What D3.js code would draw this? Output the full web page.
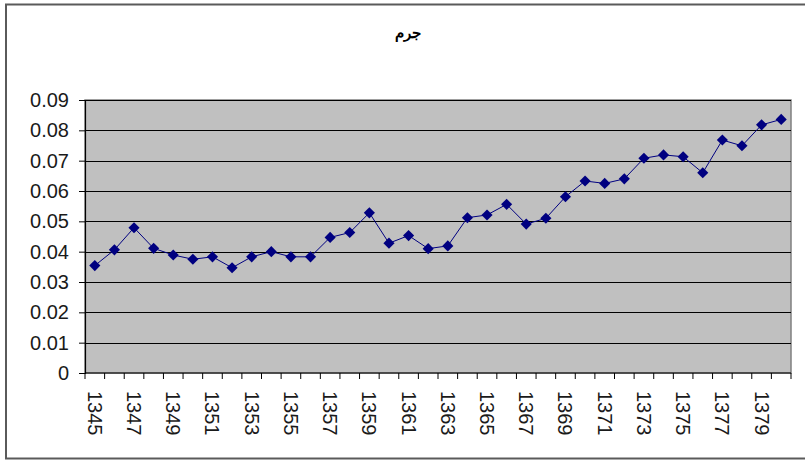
<!DOCTYPE html>
<html>
<head>
<meta charset="utf-8">
<script src="https://cdn.jsdelivr.net/npm/d3@7/dist/d3.min.js"></script>
<style>
  html, body { margin: 0; padding: 0; background: #ffffff; }
  svg { display: block; }
  text { font-family: "Liberation Sans", Arial, sans-serif; }
</style>
</head>
<body>
<svg id="chart" width="805" height="462"></svg>
<script>
// Yearly values of the series (solar-hijri years 1345–1380)
const years = d3.range(1345, 1381);
const values = [
  0.0354, 0.0406, 0.0479, 0.0411, 0.0389, 0.0375, 0.0383, 0.0347, 0.0383, 0.0400,
  0.0383, 0.0383, 0.0447, 0.0463, 0.0528, 0.0428, 0.0453, 0.0410, 0.0419, 0.0512,
  0.0521, 0.0556, 0.0491, 0.0510, 0.0581, 0.0633, 0.0625, 0.0640, 0.0708, 0.0719,
  0.0713, 0.0660, 0.0768, 0.0749, 0.0818, 0.0836
];
const yTicks = [0, 0.01, 0.02, 0.03, 0.04, 0.05, 0.06, 0.07, 0.08, 0.09];
const xLabelYears = years.filter((y, i) => i % 2 === 0);
const title = "جرم";

const svg = d3.select("#chart");
const plot = { left: 85, right: 791, top: 100, bottom: 373 };

const x = d3.scaleBand().domain(years).range([plot.left, plot.right]).padding(0);
const y = d3.scaleLinear().domain([0, 0.09]).range([plot.bottom, plot.top]);

// outer chart frame
svg.append("rect")
  .attr("x", 6).attr("y", 4.5)
  .attr("width", 803).attr("height", 454)
  .attr("fill", "#ffffff")
  .attr("stroke", "#5a5a5a").attr("stroke-width", 2);

// title
svg.append("text")
  .attr("x", 408).attr("y", 38)
  .attr("text-anchor", "middle")
  .attr("font-size", 15).attr("font-weight", "bold")
  .attr("direction", "rtl")
  .text(title);

// plot area
svg.append("rect")
  .attr("x", plot.left).attr("y", plot.top)
  .attr("width", plot.right - plot.left).attr("height", plot.bottom - plot.top)
  .attr("fill", "#c0c0c0")
  .attr("stroke", "#808080").attr("stroke-width", 1.5);

// horizontal gridlines
svg.append("g")
  .selectAll("line")
  .data(yTicks.filter(d => d > 0))
  .join("line")
  .attr("x1", plot.left).attr("x2", plot.right)
  .attr("y1", d => Math.round(y(d)) + 0.5).attr("y2", d => Math.round(y(d)) + 0.5)
  .attr("stroke", "#000000").attr("stroke-width", 1);

// y axis
const yAxis = svg.append("g")
  .attr("transform", `translate(${plot.left},0)`)
  .call(d3.axisLeft(y)
    .tickValues(yTicks)
    .tickSize(6)
    .tickPadding(10)
    .tickFormat(d => d === 0 ? "0" : d3.format(".2f")(d)));
yAxis.select(".domain").attr("stroke", "#000000").attr("stroke-width", 1.2);
yAxis.selectAll(".tick line").attr("stroke", "#000000");
yAxis.selectAll(".tick text")
  .attr("font-size", 20)
  .attr("font-family", "Liberation Sans, Arial, sans-serif")
  .attr("fill", "#1a1a1a");

// x axis: baseline, ticks between categories, rotated labels on every other year
const xAxis = svg.append("g").attr("transform", `translate(0,${plot.bottom})`);
xAxis.append("line")
  .attr("x1", plot.left).attr("x2", plot.right)
  .attr("y1", 0).attr("y2", 0)
  .attr("stroke", "#000000").attr("stroke-width", 1.2);
const boundaries = years.map(d => x(d)).concat([x(years[years.length - 1]) + x.bandwidth()]);
xAxis.selectAll("line.tick")
  .data(boundaries)
  .join("line")
  .attr("class", "tick")
  .attr("x1", d => d).attr("x2", d => d)
  .attr("y1", 0).attr("y2", 6)
  .attr("stroke", "#000000");
xAxis.selectAll("text")
  .data(xLabelYears)
  .join("text")
  .attr("transform", d => `translate(${x(d) + x.bandwidth() / 2},${18}) rotate(90)`)
  .attr("dy", "0.35em")
  .attr("text-anchor", "start")
  .attr("font-size", 20)
  .attr("fill", "#1a1a1a")
  .text(d => d);

// series line and diamond markers
const cx = d => x(d) + x.bandwidth() / 2;
svg.append("path")
  .datum(years.map((yr, i) => [yr, values[i]]))
  .attr("fill", "none")
  .attr("stroke", "#000080").attr("stroke-width", 1)
  .attr("d", d3.line().x(d => cx(d[0])).y(d => y(d[1])));

svg.append("g")
  .selectAll("path")
  .data(years.map((yr, i) => [yr, values[i]]))
  .join("path")
  .attr("transform", d => `translate(${cx(d[0])},${y(d[1])}) rotate(45)`)
  .attr("d", d3.symbol().type(d3.symbolSquare).size(62))
  .attr("fill", "#000080");
</script>
</body>
</html>
